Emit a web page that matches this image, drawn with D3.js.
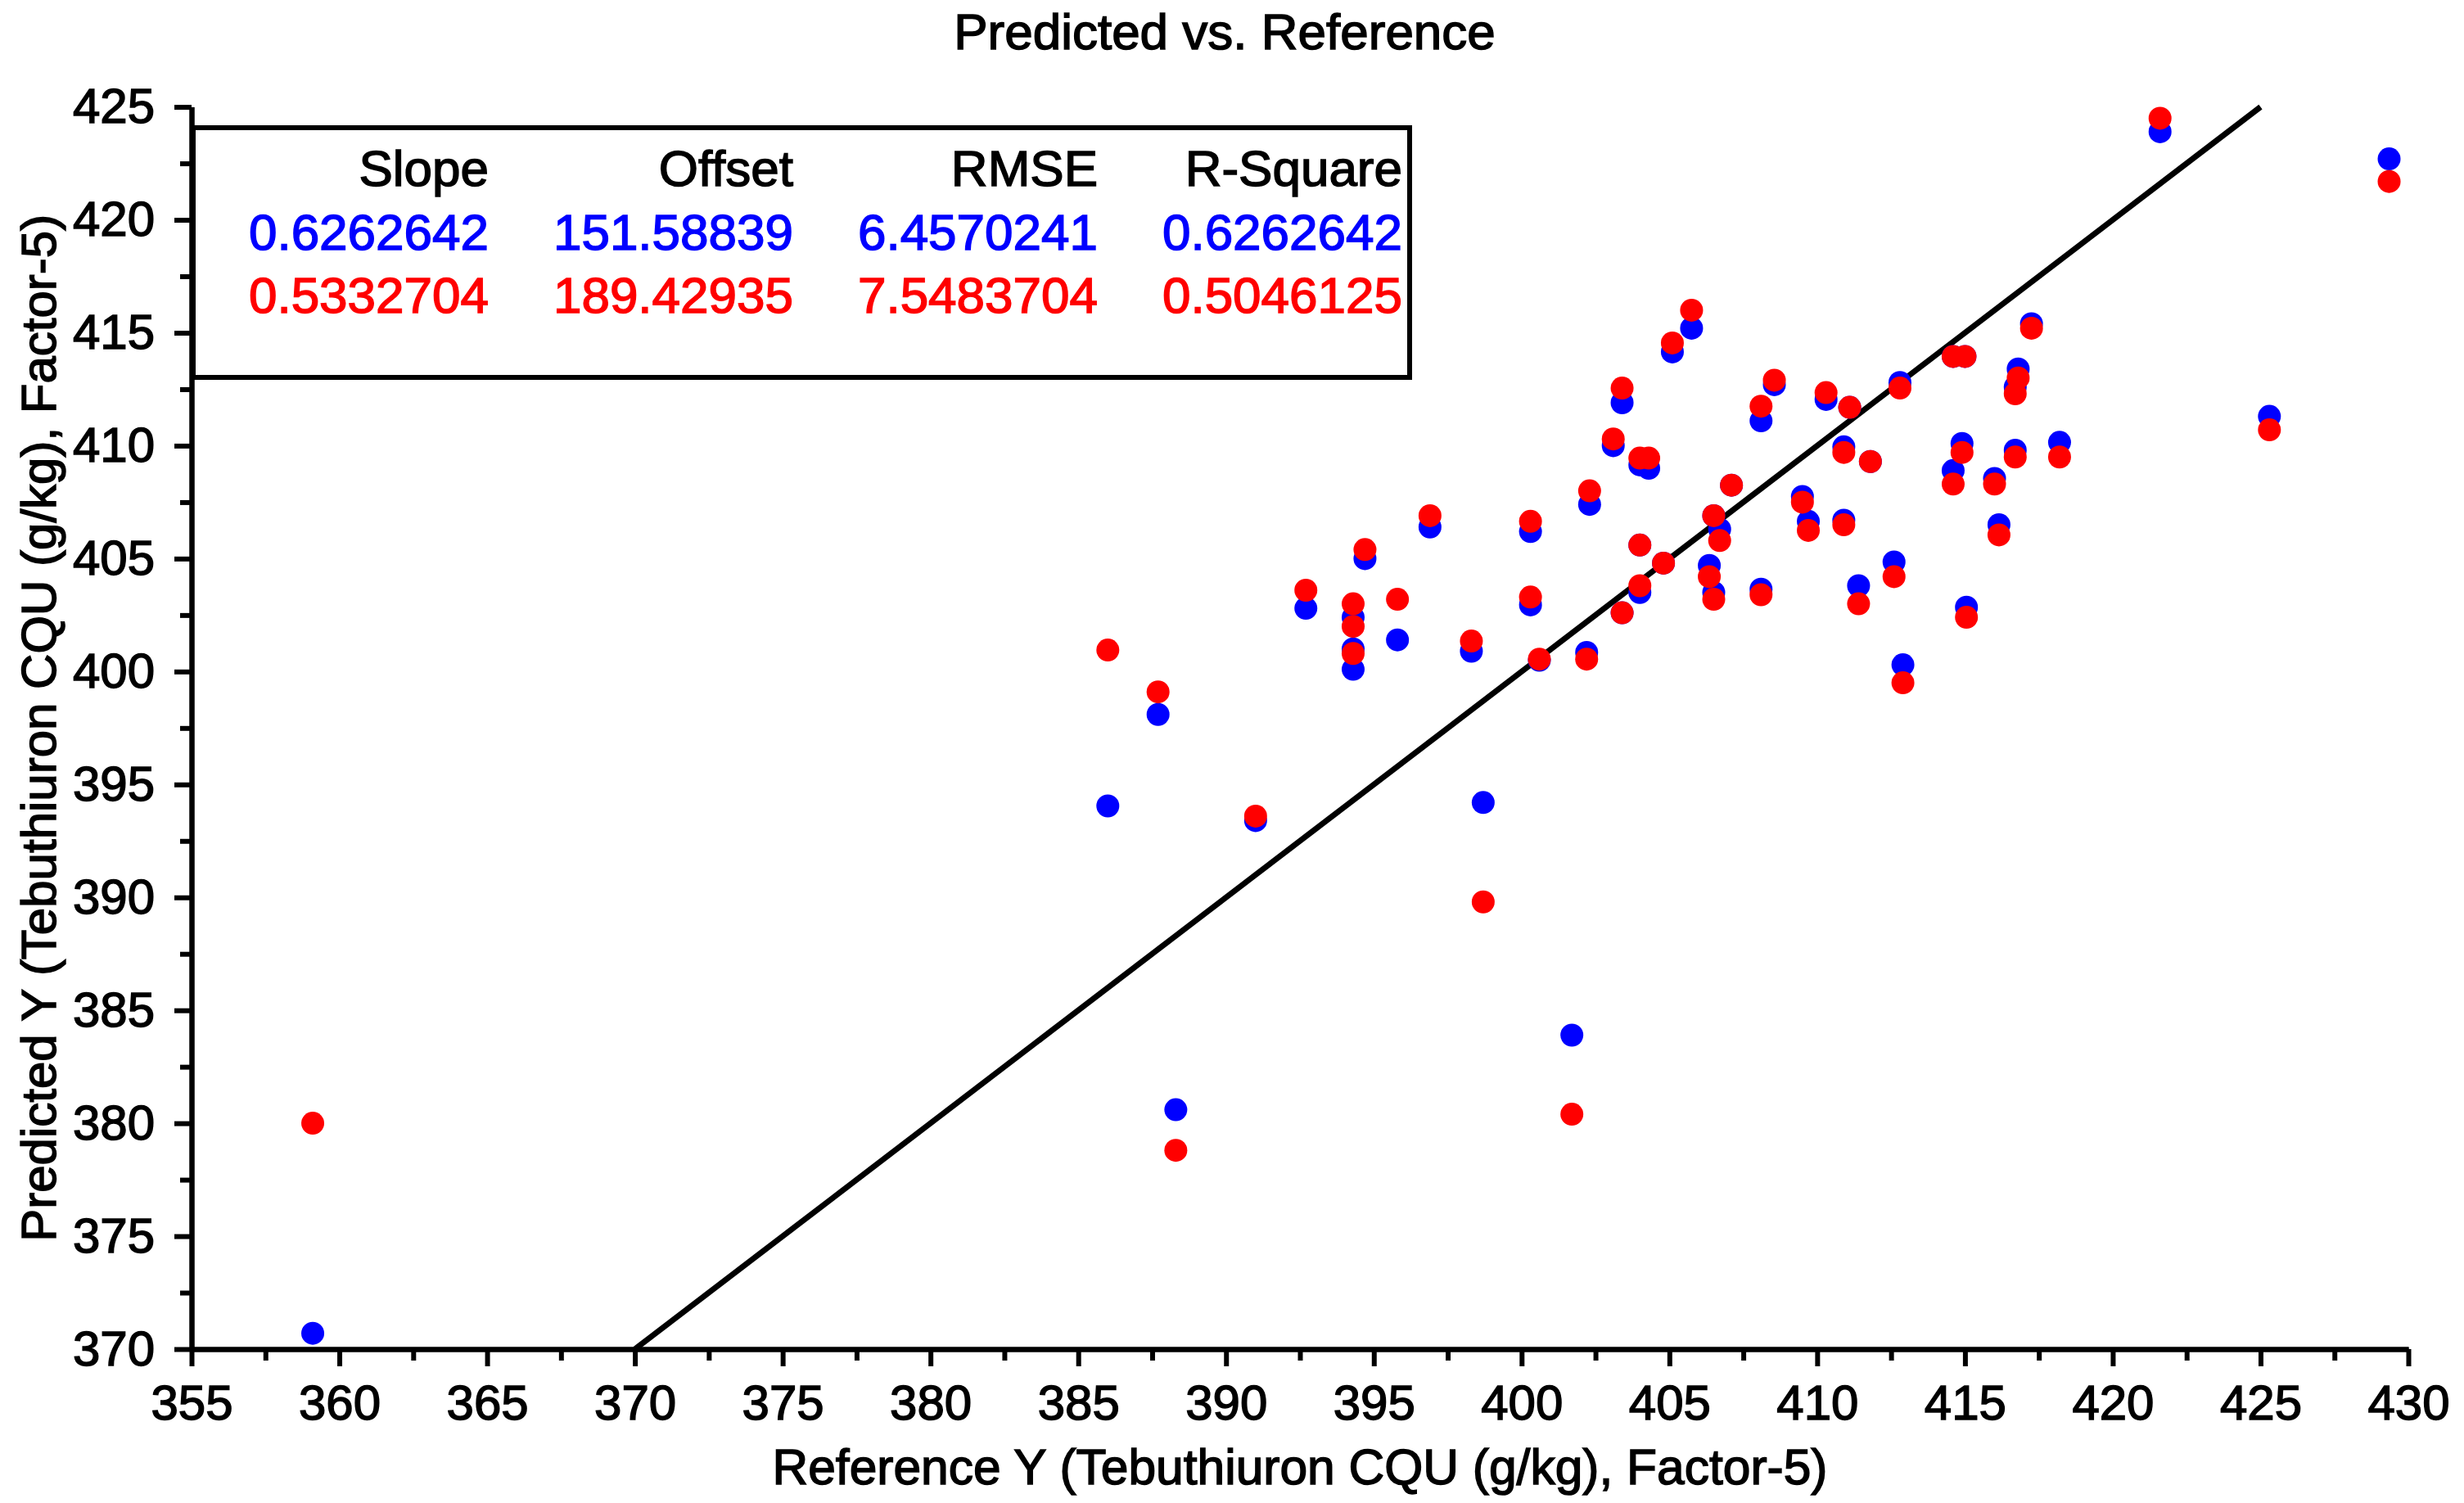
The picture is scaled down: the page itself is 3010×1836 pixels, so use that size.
<html>
  <head>
    <style>
      body {
        margin: 0;
        background: #fff;
      }
      svg text {
        font-family: "Liberation Sans", Arial, sans-serif;
        stroke-width: 1.5px;
      }
      .axis path,
      .axis line {
        stroke: #000;
        stroke-width: 6;
      }
      .axis text {
        font-size: 60px;
        fill: #000;
        stroke: #000;
      }
    </style>
  </head>
  <body>
    <svg></svg>

    <script src="https://d3js.org/d3.v7.min.js"></script>
    <script>
      let width = 3010,
        height = 1836;

      // reference values (x) and the two predicted series (y)
      let refY = [
        359.1, 386.0, 387.7, 388.3, 391.0, 392.7, 394.3, 394.3, 394.3, 394.7,
        395.8, 396.9, 398.3, 398.7, 400.3, 400.3, 400.6, 401.7, 402.2, 402.3,
        403.1, 403.4, 403.4, 404.0, 404.3, 404.0, 404.0, 404.8, 405.1, 405.75,
        406.35, 406.5, 406.5, 406.7, 407.1, 408.1, 408.1, 408.55, 409.5, 409.7,
        410.3, 410.9, 410.9, 411.1, 411.4, 411.8, 412.6, 412.8, 412.9, 414.6,
        414.6, 415.0, 414.9, 415.05, 416.0, 416.15, 416.8, 416.7, 416.7, 417.25,
        418.2, 421.6, 425.3, 429.35,
      ];
      let predBlue = [
        370.7, 394.05, 398.1, 380.6, 393.4, 402.8, 402.4, 401.0, 400.1, 405.0,
        401.4, 406.4, 400.9, 394.2, 406.2, 402.95, 400.5, 383.9, 400.85, 407.4,
        410.0, 411.9, 402.6, 409.15, 409.0, 405.6, 403.5, 404.8, 414.15, 415.2,
        404.7, 403.5, 406.9, 406.3, 408.25, 411.1, 403.65, 412.7, 407.75, 406.65,
        412.05, 409.95, 406.7, 411.7, 403.8, 409.3, 404.85, 412.8, 400.3, 408.9,
        413.95, 413.95, 410.1, 402.85, 408.55, 406.5, 413.4, 412.6, 409.8, 415.4,
        410.15, 423.9, 411.3, 422.7,
      ];
      let predRed = [
        380.0, 400.95, 399.1, 378.8, 393.6, 403.6, 403.0, 402.0, 400.8, 405.4,
        403.2, 406.9, 401.35, 389.8, 406.65, 403.3, 400.55, 380.4, 400.55, 408.0,
        410.3, 412.55, 402.6, 409.45, 409.45, 405.6, 403.8, 404.8, 414.55, 416.0,
        404.2, 403.2, 406.9, 405.8, 408.25, 411.75, 403.4, 412.9, 407.5, 406.25,
        412.35, 409.7, 406.5, 411.7, 403.0, 409.3, 404.2, 412.55, 399.5, 408.3,
        413.95, 413.95, 409.7, 402.4, 408.3, 406.05, 413.0, 412.3, 409.5, 415.2,
        409.5, 424.5, 410.7, 421.7,
      ];

      // target line y = x
      let targetLine = [370, 425];

      // stats table
      let statNames = ["Slope", "Offset", "RMSE", "R-Square"];
      let statsBlue = ["0.6262642", "151.58839", "6.4570241", "0.6262642"];
      let statsRed = ["0.5332704", "189.42935", "7.5483704", "0.5046125"];

      let xTicks = d3.range(355, 431, 5);
      let yTicks = d3.range(370, 426, 5);

      let svg = d3.select("svg").attr("width", width).attr("height", height);

      let x = d3.scaleLinear().domain([355, 430]).range([234, 2942]);
      let y = d3.scaleLinear().domain([370, 425]).range([1648, 130.6]);

      // minor ticks first, then the major axes on top
      svg
        .append("g")
        .attr("class", "axis")
        .attr("transform", "translate(0," + y(370) + ")")
        .call(
          d3
            .axisBottom(x)
            .tickValues(d3.range(357.5, 430, 5))
            .tickSize(14)
            .tickSizeOuter(0)
            .tickFormat("")
        );
      svg
        .append("g")
        .attr("class", "axis")
        .attr("transform", "translate(" + x(355) + ",0)")
        .call(
          d3
            .axisLeft(y)
            .tickValues(d3.range(372.5, 425, 5))
            .tickSize(14)
            .tickSizeOuter(0)
            .tickFormat("")
        );

      svg
        .append("g")
        .attr("class", "axis")
        .attr("transform", "translate(0," + y(370) + ")")
        .call(
          d3
            .axisBottom(x)
            .tickValues(xTicks)
            .tickSize(21)
            .tickSizeOuter(0)
            .tickPadding(22)
            .tickFormat(d3.format("d"))
        );
      svg
        .append("g")
        .attr("class", "axis")
        .attr("transform", "translate(" + x(355) + ",0)")
        .call(
          d3
            .axisLeft(y)
            .tickValues(yTicks)
            .tickSize(21)
            .tickSizeOuter(0)
            .tickPadding(24)
            .tickFormat(d3.format("d"))
        );

      // target line
      svg
        .append("line")
        .attr("x1", x(targetLine[0]))
        .attr("y1", y(targetLine[0]))
        .attr("x2", x(targetLine[1]))
        .attr("y2", y(targetLine[1]))
        .attr("stroke", "#000")
        .attr("stroke-width", 7);

      // points: blue first, red on top
      svg
        .append("g")
        .selectAll("circle")
        .data(refY)
        .enter()
        .append("circle")
        .attr("cx", (d) => x(d))
        .attr("cy", (d, i) => y(predBlue[i]))
        .attr("r", 14)
        .attr("fill", "#0000ff");
      svg
        .append("g")
        .selectAll("circle")
        .data(refY)
        .enter()
        .append("circle")
        .attr("cx", (d) => x(d))
        .attr("cy", (d, i) => y(predRed[i]))
        .attr("r", 14)
        .attr("fill", "#ff0000");

      // stats box
      let box = svg.append("g");
      box
        .append("rect")
        .attr("x", 236)
        .attr("y", 156)
        .attr("width", 1486)
        .attr("height", 305)
        .attr("fill", "#fff")
        .attr("stroke", "#000")
        .attr("stroke-width", 6);

      let rows = [
        { vals: statNames, color: "#000", y: 227 },
        { vals: statsBlue, color: "#0000ff", y: 305 },
        { vals: statsRed, color: "#ff0000", y: 382 },
      ];
      rows.forEach((row) => {
        box
          .append("g")
          .selectAll("text")
          .data(row.vals)
          .enter()
          .append("text")
          .attr("x", (d, i) => 597 + i * 372)
          .attr("y", row.y)
          .attr("text-anchor", "end")
          .attr("font-size", 62)
          .attr("fill", row.color)
          .attr("stroke", row.color)
          .text((d) => d);
      });

      // titles
      svg
        .append("text")
        .attr("x", 1496)
        .attr("y", 60)
        .attr("text-anchor", "middle")
        .attr("font-size", 62)
        .attr("stroke", "#000")
        .text("Predicted vs. Reference");

      svg
        .append("text")
        .attr("x", (x(355) + x(430)) / 2)
        .attr("y", 1813)
        .attr("text-anchor", "middle")
        .attr("font-size", 60.5)
        .attr("stroke", "#000")
        .text("Reference Y (Tebuthiuron CQU (g/kg), Factor-5)");

      svg
        .append("text")
        .attr(
          "transform",
          "translate(68," + (y(370) + y(425)) / 2 + ") rotate(-90)"
        )
        .attr("text-anchor", "middle")
        .attr("font-size", 60)
        .attr("stroke", "#000")
        .text("Predicted Y (Tebuthiuron CQU (g/kg), Factor-5)");
    </script>
  </body>
</html>
